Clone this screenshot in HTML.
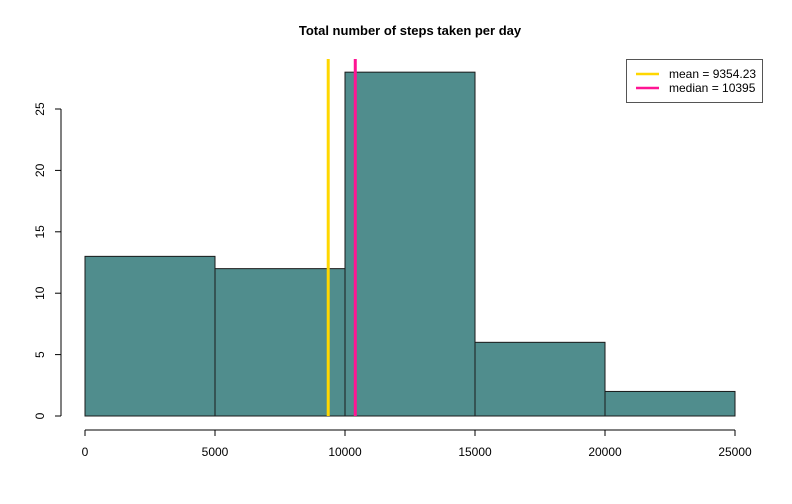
<!DOCTYPE html>
<html><head><meta charset="utf-8"><style>body{margin:0;background:#fff}svg{display:block;font-family:"Liberation Sans",Arial,sans-serif}</style></head>
<body>
<svg id="c" width="792" height="504">
<rect width="792" height="504" fill="#fff"/>
<text x="410" y="35" text-anchor="middle" font-size="13" font-weight="bold">Total number of steps taken per day</text>
<g id="bars"></g><g id="xaxis"></g><g id="yaxis"></g><g id="refs"></g>
<g>
<rect x="626.5" y="59.5" width="136" height="43" fill="#fff" stroke="#555"/>
<line x1="636" y1="74" x2="659" y2="74" stroke="#FFD700" stroke-width="2.5"/>
<text x="669" y="78" font-size="12">mean = 9354.23</text>
<line x1="636" y1="88" x2="659" y2="88" stroke="#FF1493" stroke-width="2.5"/>
<text x="669" y="92" font-size="12">median = 10395</text>
</g>
</svg>
<script>
const binEdges=[0,5000,10000,15000,20000,25000];
const counts=[13,12,28,6,2];
const xTicks=[0,5000,10000,15000,20000,25000];
const yTicks=[0,5,10,15,20,25];
const meanVal=9354.23;
const medianVal=10395;
const NS='http://www.w3.org/2000/svg';
const xs=v=>85+v*650/25000, ys=v=>416-v*307/25;
function mk(p,t,a){const e=document.createElementNS(NS,t);for(const k in a)e.setAttribute(k,a[k]);document.getElementById(p).appendChild(e);return e;}
counts.forEach((c,i)=>{const x0=xs(binEdges[i]),x1=xs(binEdges[i+1]);
const r=mk('bars','rect',{x:x0,y:ys(c),width:x1-x0,height:ys(0)-ys(c),fill:'#508D8D',stroke:'#1a1a1a','stroke-width':1});

});
let l=mk('xaxis','line',{x1:xs(xTicks[0]),x2:xs(xTicks[xTicks.length-1]),y1:430,y2:430,stroke:'#000'});


xTicks.forEach(t=>{mk('xaxis','line',{x1:xs(t),x2:xs(t),y1:430,y2:436,stroke:'#000'});
const tx=mk('xaxis','text',{x:xs(t),y:456,'text-anchor':'middle','font-size':12});tx.textContent=t;

});
l=mk('yaxis','line',{x1:61,x2:61,y1:ys(yTicks[0]),y2:ys(yTicks[yTicks.length-1]),stroke:'#000'});


yTicks.forEach(t=>{mk('yaxis','line',{x1:55,x2:61,y1:ys(t),y2:ys(t),stroke:'#000'});
const tx=mk('yaxis','text',{x:44,y:ys(t),'text-anchor':'middle','font-size':12,transform:`rotate(-90 44 ${ys(t)})`});tx.textContent=t;

});
let m=mk('refs','line',{x1:xs(meanVal),x2:xs(meanVal),y1:59,y2:416,stroke:'#FFD700','stroke-width':3});


m=mk('refs','line',{x1:xs(medianVal),x2:xs(medianVal),y1:59,y2:416,stroke:'#FF1493','stroke-width':3});


</script>
</body></html>
